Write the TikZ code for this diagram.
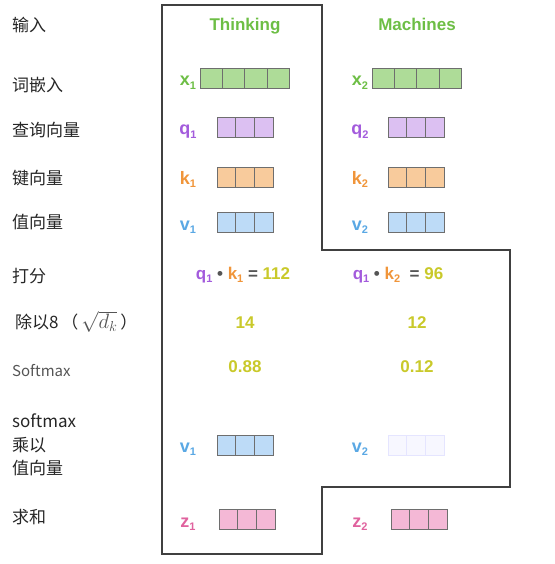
\documentclass[tikz,border=0pt]{standalone}
\usepackage{fontspec}
\setmainfont{Liberation Sans}
\newfontfamily\cjk{Noto Sans CJK SC}
\definecolor{thinkgreen}{HTML}{6DBE45}
\definecolor{boxgreen}{HTML}{AEDC98}
\definecolor{qpurple}{HTML}{A35BDC}
\definecolor{boxpurple}{HTML}{DCC0F2}
\definecolor{korange}{HTML}{F0953A}
\definecolor{boxorange}{HTML}{F8CB9C}
\definecolor{vblue}{HTML}{5AA8E4}
\definecolor{boxblue}{HTML}{BDDBF7}
\definecolor{numyellow}{HTML}{C9C92A}
\definecolor{zpink}{HTML}{E0629E}
\definecolor{boxpink}{HTML}{F4B8D6}
\definecolor{cellgray}{HTML}{6E6E6E}
\definecolor{opgray}{HTML}{555555}
\newcommand{\idx}[1]{\raisebox{-0.35ex}{\fontsize{11}{11}\selectfont #1}}
% cells of one vector: x, y (top), number of cells, cell width, fill
\newcommand{\cellrow}[5]{%
  \foreach \i in {1,...,#3}
    \draw[cellline, fill=#5] ({#1+(\i-1)*#4},#2) rectangle ++(#4,20);}
\tikzset{
  rowlab/.style={anchor=west, inner sep=0pt, font=\cjk\fontsize{17}{23.5}\selectfont, text=black!85},
  word/.style={anchor=base, inner sep=0pt, font=\bfseries\fontsize{17}{20}\selectfont},
  veclab/.style={anchor=base, inner sep=0pt, font=\bfseries\fontsize{18}{20}\selectfont},
  cellline/.style={draw=cellgray, line width=0.8pt},
  frame/.style={draw=black!75, line width=1.1pt}
}
\begin{document}
\begin{tikzpicture}[x=1pt,y=-1pt]
  \useasboundingbox (0,0) rectangle (554,564);
  \draw[frame] (162,5) -- (322,5) -- (322,250) -- (510,250) -- (510,487)
    -- (322,487) -- (322,554) -- (162,554) -- cycle;
  % row labels
  \node[rowlab] (in) at (12,25) {输入};
  \node[rowlab] (emb) at (12,85) {词嵌入};
  \node[rowlab] (qry) at (12,130) {查询向量};
  \node[rowlab] (key) at (12,178) {键向量};
  \node[rowlab] (val) at (12,222) {值向量};
  \node[rowlab] (score) at (12,276) {打分};
  \node[rowlab] (div) at (15,322)
    {除以8\,（\,\textcolor{opgray}{\fontsize{21}{21}\selectfont$\sqrt{d_k}$}\,）};
  \node[rowlab, text=opgray, font=\cjk\fontsize{15}{18}\selectfont] (smax) at (12,371) {Softmax};
  \node[rowlab, align=left] (mul) at (12,445) {softmax\\乘以\\值向量};
  \node[rowlab] (sum) at (12,517) {求和};
  % words
  \node[word, text=thinkgreen] (think) at (245,31) {Thinking};
  \node[word, text=thinkgreen] (mach) at (417,31) {Machines};
  % embeddings
  \node[veclab, text=thinkgreen] (x1) at (188,86) {x\idx{1}};
  \cellrow{200}{68}{4}{22.3}{boxgreen}
  \node[veclab, text=thinkgreen] (x2) at (360,86) {x\idx{2}};
  \cellrow{372}{68}{4}{22.3}{boxgreen}
  % queries
  \node[veclab, text=qpurple] (q1) at (188,135) {q\idx{1}};
  \cellrow{217}{117}{3}{18.7}{boxpurple}
  \node[veclab, text=qpurple] (q2) at (360,135) {q\idx{2}};
  \cellrow{388}{117}{3}{18.7}{boxpurple}
  % keys
  \node[veclab, text=korange] (k1) at (188,184) {k\idx{1}};
  \cellrow{217}{167}{3}{18.7}{boxorange}
  \node[veclab, text=korange] (k2) at (360,184) {k\idx{2}};
  \cellrow{388}{167}{3}{18.7}{boxorange}
  % values
  \node[veclab, text=vblue] (v1) at (188,230) {v\idx{1}};
  \cellrow{217}{212}{3}{18.7}{boxblue}
  \node[veclab, text=vblue] (v2) at (360,230) {v\idx{2}};
  \cellrow{388}{212}{3}{18.7}{boxblue}
  % scores
  \node[word, text=opgray] (s1) at (243,279)
    {\textcolor{qpurple}{q\idx{1}} \textbullet{} \textcolor{korange}{k\idx{1}} = \textcolor{numyellow}{112}};
  \node[word, text=opgray] (s2) at (398,279)
    {\textcolor{qpurple}{q\idx{1}} \textbullet{} \textcolor{korange}{k\idx{2}} \ = \textcolor{numyellow}{96}};
  \node[word, text=numyellow] (d1) at (245,328) {14};
  \node[word, text=numyellow] (d2) at (417,328) {12};
  \node[word, text=numyellow] (p1) at (245,372) {0.88};
  \node[word, text=numyellow] (p2) at (417,372) {0.12};
  % weighted values
  \node[veclab, text=vblue] (w1) at (188,452) {v\idx{1}};
  \cellrow{217}{435}{3}{18.7}{boxblue}
  \node[veclab, text=vblue] (w2) at (360,452) {v\idx{2}};
  \begin{scope}[cellline/.append style={draw=blue!10}]
    \cellrow{388}{435}{3}{18.7}{blue!3}
  \end{scope}
  % sums
  \node[veclab, text=zpink] (z1) at (188,527) {z\idx{1}};
  \cellrow{219}{509}{3}{18.7}{boxpink}
  \node[veclab, text=zpink] (z2) at (360,527) {z\idx{2}};
  \cellrow{391}{509}{3}{18.7}{boxpink}
\end{tikzpicture}
\end{document}
